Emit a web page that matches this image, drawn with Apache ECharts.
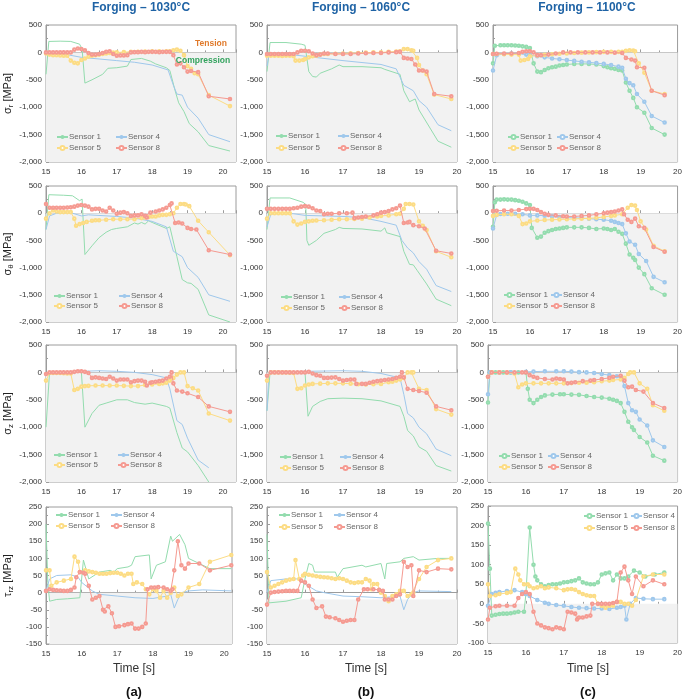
<!DOCTYPE html>
<html><head><meta charset="utf-8">
<script src="https://cdn.jsdelivr.net/npm/echarts@6/dist/echarts.min.js"></script>
<style>html,body{margin:0;padding:0;background:#fff}#c{width:685px;height:700px}</style>
</head><body><div id="c"></div><script>
// ---------- labels / ticks ----------
const temps = ['1030', '1060', '1100'];
const colLetters = ['(a)', '(b)', '(c)'];
const sensors = ['Sensor 1', 'Sensor 4', 'Sensor 5', 'Sensor 8'];
const xTicks = [15, 16, 17, 18, 19, 20];
const stressTicks = [-2000, -1500, -1000, -500, 0, 500];
const shearTicksAB = [-150, -100, -50, 0, 50, 100, 150, 200, 250];
const shearTicksC = [-100, -50, 0, 50, 100, 150, 200, 250];

// ---------- sigma_r ----------
const sr_a_s1 = [[15,-400],[15.08,200],[15.4,205],[15.7,200],[15.95,150],[16.02,60],[16.1,-560],[16.3,-500],[16.6,-400],[16.75,-290],[17,-280],[17.3,-250],[17.4,-130],[17.7,-110],[17.95,-160],[18.1,-210],[18.4,-280],[18.5,-330],[18.65,-700],[18.75,-920],[18.9,-1080],[19.05,-1300],[19.3,-1450],[19.6,-1700],[20.2,-1800]];
const sr_a_s4 = [[15,-20],[15.5,-30],[16,-90],[16.5,-120],[17,-150],[17.5,-180],[18,-230],[18.45,-320],[18.6,-600],[18.7,-760],[18.85,-780],[19,-1000],[19.3,-1200],[19.6,-1500],[20.2,-1630]];
const sr_a_s5 = [[15,-20],[15.1,-40],[15.2,-50],[15.3,-50],[15.4,-55],[15.5,-60],[15.6,-60],[15.7,-150],[15.8,-190],[15.9,-200],[16,-140],[16.1,-110],[16.2,-80],[16.3,-60],[16.4,-50],[16.5,-40],[16.6,-30],[16.7,-20],[16.8,-10],[16.9,-5],[17,0],[17.2,5],[17.4,10],[17.6,10],[17.8,15],[18,20],[18.2,20],[18.4,20],[18.5,20],[18.6,40],[18.7,50],[18.8,30],[18.9,-50],[19,-250],[19.1,-300],[19.2,-380],[19.3,-400],[19.6,-780],[20.2,-980]];
const sr_a_s8 = [[15,0],[15.1,0],[15.2,0],[15.3,0],[15.4,0],[15.5,0],[15.6,0],[15.7,0],[15.8,50],[15.9,70],[16,60],[16.1,40],[16.2,-10],[16.3,-40],[16.4,-40],[16.5,-30],[16.6,-10],[16.7,10],[16.8,20],[16.9,-30],[17,-60],[17.1,-55],[17.2,-55],[17.3,-50],[17.4,0],[17.5,5],[17.6,5],[17.7,10],[17.8,5],[17.9,10],[18,10],[18.1,10],[18.2,5],[18.3,10],[18.4,10],[18.5,10],[18.6,-50],[18.7,-220],[18.8,-200],[18.9,-270],[19,-350],[19.1,-340],[19.3,-360],[19.6,-800],[20.2,-850]];
const sr_b_s1 = [[15,-350],[15.08,180],[15.5,180],[15.9,150],[16,130],[16.1,-350],[16.2,-440],[16.3,-450],[16.4,-380],[16.7,-300],[16.9,-230],[17,-260],[17.5,-260],[18,-280],[18.1,-310],[18.5,-400],[18.6,-700],[18.75,-900],[18.8,-930],[18.9,-850],[19,-1050],[19.5,-1620],[19.85,-1730]];
const sr_b_s4 = [[15,-250],[15.05,-50],[15.5,-30],[16,-70],[17,-150],[18,-220],[18.4,-300],[18.6,-600],[18.85,-700],[19,-880],[19.2,-1000],[19.5,-1320],[19.85,-1430]];
const sr_b_s5 = [[15,-60],[15.1,-60],[15.2,-60],[15.3,-60],[15.4,-65],[15.5,-60],[15.6,-60],[15.7,-70],[15.75,-150],[15.85,-150],[15.95,-140],[16,-120],[16.1,-90],[16.2,-70],[16.3,-60],[16.4,-40],[16.5,-30],[16.6,-30],[16.8,-25],[17,-20],[17.2,-15],[17.4,-10],[17.6,-5],[17.8,0],[18,0],[18.2,10],[18.4,15],[18.5,20],[18.6,60],[18.7,60],[18.8,40],[18.85,30],[18.95,-100],[19,-230],[19.1,-330],[19.2,-400],[19.4,-770],[19.85,-850]];
const sr_b_s8 = [[15,-30],[15.1,-30],[15.2,-30],[15.3,-30],[15.4,-30],[15.5,-30],[15.6,-30],[15.7,-30],[15.8,0],[15.9,30],[16,30],[16.1,20],[16.2,-20],[16.3,-50],[16.4,-40],[16.5,-20],[16.6,-20],[16.8,-30],[17,-30],[17.2,-30],[17.4,-20],[17.6,-15],[17.8,-10],[18,-10],[18.2,0],[18.4,5],[18.5,10],[18.6,-100],[18.7,-110],[18.8,-120],[18.9,-220],[19,-330],[19.1,-330],[19.2,-350],[19.4,-760],[19.85,-800]];
const sr_c_s1 = [[15,-200],[15.05,120],[15.2,130],[15.3,130],[15.4,130],[15.5,130],[15.6,125],[15.7,120],[15.8,110],[15.9,100],[16,80],[16.1,-200],[16.2,-350],[16.3,-360],[16.4,-320],[16.5,-290],[16.6,-270],[16.7,-260],[16.8,-240],[16.9,-230],[17,-220],[17.2,-210],[17.4,-210],[17.6,-210],[17.8,-220],[18,-250],[18.1,-270],[18.2,-290],[18.3,-300],[18.4,-320],[18.5,-330],[18.6,-550],[18.7,-700],[18.8,-830],[18.9,-1000],[19.1,-1100],[19.3,-1380],[19.65,-1500]];
const sr_c_s4 = [[15,-330],[15.1,-50],[15.3,-30],[15.5,-20],[15.7,-25],[15.9,-40],[16,-50],[16.2,-70],[16.4,-90],[16.6,-110],[16.8,-125],[17,-140],[17.2,-155],[17.4,-170],[17.6,-180],[17.8,-195],[18,-210],[18.2,-230],[18.4,-260],[18.5,-280],[18.6,-480],[18.7,-560],[18.8,-600],[18.9,-760],[19.1,-900],[19.3,-1160],[19.65,-1280]];
const sr_c_s5 = [[15,-30],[15.1,-30],[15.3,-35],[15.5,-40],[15.7,-40],[15.75,-150],[15.85,-140],[15.95,-120],[16,-70],[16.2,-55],[16.4,-45],[16.6,-35],[16.8,-25],[17,-20],[17.2,-10],[17.4,-5],[17.6,0],[17.8,5],[18,10],[18.2,10],[18.4,10],[18.5,10],[18.6,30],[18.7,40],[18.8,35],[18.85,20],[18.95,-200],[19.1,-370],[19.3,-700],[19.65,-760]];
const sr_c_s8 = [[15,-30],[15.1,-25],[15.3,-20],[15.5,-20],[15.7,-10],[15.8,10],[15.9,20],[16,20],[16.1,0],[16.2,-50],[16.3,-50],[16.5,-40],[16.7,-20],[16.9,0],[17.1,0],[17.3,0],[17.5,0],[17.7,0],[17.9,0],[18.1,0],[18.3,-5],[18.5,-10],[18.6,-100],[18.75,-130],[18.85,-150],[18.9,-270],[19.1,-280],[19.3,-700],[19.65,-780]];

// ---------- sigma_theta ----------
const st_a_s1 = [[15,-300],[15.08,340],[15.5,330],[15.75,320],[15.95,230],[16.02,260],[16.1,-760],[16.3,-600],[16.5,-450],[16.7,-350],[16.85,-300],[17,-280],[17.3,-250],[17.5,-180],[17.6,-200],[17.7,-170],[17.8,-200],[17.9,-140],[18,-170],[18.4,-280],[18.5,-250],[18.7,-800],[18.85,-1220],[19,-1280],[19.1,-1290],[19.3,-1400],[19.6,-1870],[20.2,-2000]];
const st_a_s4 = [[15,-300],[15.1,-50],[15.3,0],[15.7,10],[16,-50],[16.2,-30],[17,-60],[17.5,-90],[18,-150],[18.4,-250],[18.6,-700],[18.85,-800],[19,-1000],[19.3,-1180],[19.6,-1500],[20.2,-1620]];
const st_a_s5 = [[15,-100],[15.1,0],[15.2,50],[15.3,30],[15.4,20],[15.5,20],[15.6,20],[15.7,20],[15.8,-100],[15.85,-230],[15.95,-200],[16.05,-180],[16.15,-160],[16.3,-140],[16.4,-130],[16.5,-130],[16.7,-120],[16.9,-110],[17.1,-110],[17.3,-110],[17.5,-110],[17.7,-90],[17.8,-80],[17.9,-70],[18,-60],[18.1,-60],[18.2,-40],[18.3,-30],[18.4,-30],[18.5,-20],[18.6,0],[18.7,100],[18.8,170],[18.9,170],[18.95,160],[19.05,130],[19.3,-140],[19.6,-350],[20.2,-770]];
const st_a_s8 = [[15,170],[15.1,100],[15.2,100],[15.3,100],[15.4,100],[15.5,100],[15.6,105],[15.7,110],[15.8,120],[15.9,140],[16,150],[16.1,140],[16.2,120],[16.3,70],[16.4,80],[16.5,80],[16.6,50],[16.7,30],[16.8,100],[16.9,50],[17,-10],[17.1,10],[17.2,20],[17.3,0],[17.4,-50],[17.5,-40],[17.6,-40],[17.7,-20],[17.8,-50],[17.85,-80],[17.95,10],[18.1,30],[18.2,50],[18.3,70],[18.4,100],[18.5,150],[18.55,180],[18.65,-180],[18.75,-170],[18.85,-190],[19,-270],[19.1,-290],[19.25,-300],[19.6,-680],[20.2,-760]];
const st_b_s1 = [[15,-300],[15.08,280],[15.6,280],[15.95,200],[16.02,160],[16.05,-500],[16.1,-590],[16.3,-500],[16.5,-370],[16.8,-300],[16.9,-260],[17,-280],[17.5,-290],[18,-330],[18.1,-270],[18.15,-360],[18.5,-430],[18.6,-700],[18.75,-940],[18.85,-950],[18.95,-1050],[19.2,-1300],[19.45,-1580],[19.85,-1700]];
const st_b_s4 = [[15,-250],[15.1,-20],[15.4,0],[15.7,-10],[16,-40],[17,-60],[17.5,-80],[18,-150],[18.4,-220],[18.55,-500],[18.7,-640],[18.85,-730],[19,-890],[19.2,-1030],[19.45,-1330],[19.85,-1440]];
const st_b_s5 = [[15,-100],[15.1,0],[15.2,0],[15.3,0],[15.4,0],[15.5,0],[15.6,0],[15.7,-150],[15.8,-210],[15.9,-190],[16,-160],[16.1,-150],[16.2,-140],[16.3,-135],[16.5,-130],[16.7,-120],[16.9,-110],[17.1,-110],[17.3,-105],[17.5,-100],[17.7,-80],[17.9,-60],[18,-50],[18.2,-40],[18.4,-20],[18.5,-10],[18.6,80],[18.65,170],[18.75,170],[18.85,160],[19,-150],[19.1,-230],[19.2,-310],[19.45,-700],[19.85,-810]];
const st_b_s8 = [[15,80],[15.1,80],[15.2,80],[15.3,80],[15.4,80],[15.5,80],[15.6,80],[15.7,90],[15.8,100],[15.9,120],[16,130],[16.1,120],[16.2,90],[16.3,50],[16.4,40],[16.5,-20],[16.6,-10],[16.7,-10],[16.9,0],[17.1,0],[17.25,10],[17.3,-90],[17.4,-80],[17.5,-70],[17.6,-60],[17.8,-40],[17.9,-20],[18,10],[18.1,20],[18.2,40],[18.3,70],[18.4,90],[18.5,140],[18.6,-180],[18.7,-170],[18.75,-160],[18.85,-220],[19,-240],[19.15,-280],[19.45,-690],[19.85,-740]];
const st_c_s1 = [[15,-250],[15.05,200],[15.1,250],[15.2,250],[15.3,255],[15.4,250],[15.5,250],[15.6,240],[15.7,230],[15.8,210],[15.9,180],[16,150],[16.05,-270],[16.2,-450],[16.3,-430],[16.4,-360],[16.5,-330],[16.6,-310],[16.7,-290],[16.8,-280],[16.9,-270],[17,-260],[17.2,-260],[17.4,-260],[17.6,-270],[17.8,-290],[18,-280],[18.1,-290],[18.2,-310],[18.3,-290],[18.4,-340],[18.5,-380],[18.6,-560],[18.7,-760],[18.8,-820],[18.85,-860],[18.95,-1000],[19.1,-1120],[19.3,-1380],[19.65,-1500]];
const st_c_s4 = [[15,-280],[15.1,-30],[15.2,-15],[15.4,-10],[15.6,-10],[15.8,-20],[16,-40],[16.2,-40],[16.4,-45],[16.6,-55],[16.8,-70],[17,-80],[17.2,-85],[17.4,-90],[17.6,-100],[17.8,-110],[18,-120],[18.2,-140],[18.3,-160],[18.4,-180],[18.5,-200],[18.6,-370],[18.7,-520],[18.85,-580],[18.95,-750],[19.15,-880],[19.35,-1170],[19.65,-1270]];
const st_c_s5 = [[15,-50],[15.1,-30],[15.3,-20],[15.5,-20],[15.7,-50],[15.8,-200],[15.9,-190],[16,-150],[16.2,-135],[16.4,-125],[16.6,-120],[16.8,-115],[17,-110],[17.2,-105],[17.4,-100],[17.6,-95],[17.8,-85],[18,-70],[18.2,-50],[18.3,-40],[18.5,-20],[18.65,100],[18.75,150],[18.85,140],[18.9,60],[19,-150],[19.15,-300],[19.35,-600],[19.65,-700]];
const st_c_s8 = [[15,40],[15.1,45],[15.3,50],[15.5,50],[15.7,60],[15.9,75],[16,80],[16.1,80],[16.2,60],[16.3,20],[16.4,-10],[16.5,-30],[16.7,-40],[16.9,-55],[17,-60],[17.2,-60],[17.4,-50],[17.6,-40],[17.8,-20],[18,0],[18.1,10],[18.2,20],[18.3,30],[18.4,50],[18.5,70],[18.55,-20],[18.65,-120],[18.75,-160],[18.85,-100],[18.95,-240],[19.1,-270],[19.35,-620],[19.65,-710]];

// ---------- sigma_z ----------
const sz_a_s1 = [[15,-1000],[15.1,0],[15.5,0],[16,10],[16.05,0],[16.1,-1000],[16.3,-750],[16.5,-600],[16.7,-560],[17,-500],[17.3,-500],[17.5,-550],[17.8,-580],[18,-560],[18.4,-620],[18.5,-650],[18.7,-1100],[18.85,-1380],[19,-1450],[19.3,-1700],[19.6,-2000]];
const sz_a_s4 = [[15,-50],[15.1,0],[16,20],[16.5,30],[17,20],[17.5,0],[18,-40],[18.4,-100],[18.5,-300],[18.7,-880],[18.85,-950],[19,-1200],[19.3,-1600],[19.6,-1740]];
const sz_a_s5 = [[15,-150],[15.1,-10],[15.2,-10],[15.3,-10],[15.4,-10],[15.5,-15],[15.6,-20],[15.7,-20],[15.8,-320],[15.9,-300],[16,-260],[16.1,-250],[16.2,-245],[16.4,-240],[16.6,-240],[16.8,-240],[17,-240],[17.2,-245],[17.4,-250],[17.6,-250],[17.8,-230],[18,-220],[18.2,-210],[18.3,-200],[18.4,-190],[18.5,-150],[18.6,-100],[18.7,-40],[18.8,0],[18.9,0],[19,-250],[19.15,-290],[19.3,-330],[19.6,-750],[20.2,-880]];
const sz_a_s8 = [[15,-30],[15.1,0],[15.2,0],[15.3,0],[15.4,0],[15.5,0],[15.6,0],[15.7,0],[15.8,10],[15.9,20],[16,20],[16.1,10],[16.2,-10],[16.3,-100],[16.4,-90],[16.5,-100],[16.6,-110],[16.7,-120],[16.8,-80],[16.9,-110],[17,-150],[17.1,-130],[17.2,-130],[17.3,-130],[17.4,-180],[17.5,-160],[17.6,-150],[17.7,-150],[17.8,-170],[17.85,-240],[17.95,-190],[18,-180],[18.1,-170],[18.2,-160],[18.3,-150],[18.4,-110],[18.5,-80],[18.55,0],[18.6,-200],[18.7,-330],[18.85,-350],[19,-380],[19.3,-450],[19.6,-620],[20.2,-720]];
const sz_b_s1 = [[15,-700],[15.08,0],[15.5,0],[16,0],[16.05,0],[16.08,-800],[16.2,-620],[16.4,-530],[16.6,-480],[17,-470],[17.5,-480],[18,-520],[18.5,-620],[18.6,-800],[18.7,-1060],[18.85,-1160],[19,-1360],[19.2,-1440],[19.45,-1700],[19.85,-1800]];
const sz_b_s4 = [[15,-700],[15.05,0],[16,20],[17,30],[17.5,20],[18,-20],[18.5,-100],[18.6,-400],[18.7,-750],[18.85,-830],[19,-1000],[19.2,-1120],[19.45,-1400],[19.85,-1520]];
const sz_b_s5 = [[15,-150],[15.1,0],[15.2,0],[15.3,0],[15.4,0],[15.5,0],[15.6,-5],[15.7,-10],[15.8,-300],[15.9,-290],[16,-240],[16.1,-220],[16.2,-210],[16.4,-205],[16.6,-200],[16.8,-200],[17,-200],[17.2,-205],[17.4,-215],[17.6,-220],[17.8,-215],[18,-210],[18.2,-180],[18.3,-170],[18.4,-150],[18.5,-130],[18.6,-100],[18.7,0],[18.8,0],[18.85,0],[19,-300],[19.2,-320],[19.45,-670],[19.85,-770]];
const sz_b_s8 = [[15,-60],[15.1,0],[15.2,0],[15.3,0],[15.4,0],[15.5,0],[15.6,0],[15.7,0],[15.8,0],[15.9,0],[16,0],[16.1,10],[16.2,-20],[16.3,-50],[16.4,-60],[16.5,-100],[16.6,-100],[16.7,-95],[16.8,-90],[16.9,-120],[17,-150],[17.1,-140],[17.2,-130],[17.3,-130],[17.35,-210],[17.5,-210],[17.6,-210],[17.7,-190],[17.8,-170],[17.9,-160],[18,-150],[18.1,-140],[18.2,-130],[18.3,-120],[18.4,-100],[18.5,-80],[18.55,0],[18.6,-90],[18.7,-300],[18.85,-320],[19,-340],[19.2,-370],[19.45,-620],[19.85,-690]];
const sz_c_s1 = [[15,-550],[15.05,0],[15.2,0],[15.4,0],[15.6,0],[15.8,0],[16,0],[16.05,-300],[16.1,-500],[16.2,-560],[16.3,-500],[16.4,-450],[16.5,-420],[16.7,-405],[16.9,-400],[17,-400],[17.2,-405],[17.4,-410],[17.6,-430],[17.8,-450],[18,-460],[18.2,-480],[18.3,-500],[18.4,-520],[18.5,-560],[18.6,-720],[18.7,-900],[18.8,-1000],[18.85,-1050],[19,-1180],[19.2,-1280],[19.35,-1520],[19.65,-1610]];
const sz_c_s4 = [[15,-400],[15.05,0],[15.3,0],[15.6,0],[16,10],[16.2,15],[16.5,20],[16.8,20],[17,20],[17.2,15],[17.4,5],[17.6,0],[17.8,-10],[18,-30],[18.2,-50],[18.4,-70],[18.5,-80],[18.6,-250],[18.7,-560],[18.8,-690],[18.9,-720],[19,-860],[19.2,-970],[19.35,-1240],[19.65,-1360]];
const sz_c_s5 = [[15,-80],[15.1,0],[15.3,0],[15.5,-5],[15.7,-20],[15.8,-270],[15.9,-220],[16,-200],[16.2,-200],[16.4,-200],[16.6,-200],[16.8,-200],[17,-200],[17.2,-195],[17.4,-190],[17.6,-190],[17.8,-180],[18,-160],[18.2,-150],[18.3,-140],[18.5,-130],[18.6,-100],[18.7,-30],[18.75,0],[18.85,0],[19,-200],[19.2,-300],[19.35,-600],[19.65,-700]];
const sz_c_s8 = [[15,-80],[15.1,0],[15.3,0],[15.5,0],[15.7,0],[15.9,0],[16,0],[16.1,-50],[16.2,-80],[16.3,-100],[16.5,-120],[16.7,-130],[16.8,-110],[16.9,-120],[17,-130],[17.1,-200],[17.2,-190],[17.3,-180],[17.5,-160],[17.7,-150],[17.8,-140],[18,-120],[18.2,-100],[18.3,-80],[18.5,-60],[18.6,-150],[18.7,-270],[18.8,-260],[18.9,-320],[19.1,-350],[19.35,-560],[19.65,-650]];

// ---------- tau_rz ----------
const trz_a_s1 = [[15,200],[15.05,30],[15.1,-25],[15.3,-20],[15.6,-18],[15.95,-15],[16.05,95],[16.2,40],[16.5,60],[16.8,65],[16.9,60],[17,70],[17.3,75],[17.4,80],[17.5,105],[17.9,110],[17.95,40],[18,35],[18.1,80],[18.35,90],[18.5,165],[18.55,150],[18.75,170],[18.9,140],[19,100],[19.3,85],[19.6,70],[20.2,70]];
const trz_a_s4 = [[15,5],[15.1,40],[15.3,50],[15.7,52],[15.9,45],[16,30],[16.3,5],[16.5,-5],[17,-10],[17.5,-15],[18,-17],[18.4,-10],[18.5,-5],[18.6,-45],[18.7,-20],[18.8,0],[19,5],[19.4,8],[20.2,5]];
const trz_a_s5 = [[15,65],[15.1,65],[15.15,20],[15.3,30],[15.5,35],[15.7,40],[15.8,105],[15.9,90],[15.95,60],[16.1,65],[16.2,62],[16.3,60],[16.4,58],[16.5,55],[16.6,55],[16.7,55],[16.8,57],[16.9,58],[17,58],[17.1,55],[17.2,50],[17.3,55],[17.4,55],[17.45,25],[17.55,30],[17.7,25],[17.8,10],[17.9,-5],[18,10],[18.1,5],[18.2,-15],[18.3,5],[18.4,-15],[18.5,0],[18.6,15],[18.7,-10],[18.8,-5],[19,15],[19.3,25],[19.6,90],[20.2,110]];
const trz_a_s8 = [[15,5],[15.1,10],[15.2,8],[15.3,7],[15.4,6],[15.5,5],[15.6,5],[15.7,8],[15.8,15],[15.85,45],[15.95,60],[16.05,58],[16.1,55],[16.2,20],[16.3,-20],[16.4,-15],[16.5,-10],[16.6,-50],[16.65,-55],[16.75,-40],[16.85,-60],[16.95,-100],[17.05,-98],[17.2,-95],[17.3,-92],[17.4,-90],[17.5,-105],[17.6,-105],[17.7,-100],[17.8,-90],[17.85,10],[17.95,15],[18.05,15],[18.15,16],[18.3,15],[18.4,10],[18.5,5],[18.55,10],[18.6,65],[18.7,150],[18.8,80],[18.9,70],[19,85],[19.3,85],[19.6,65],[20.2,80]];
const trz_b_s1 = [[15,170],[15.05,-30],[15.5,-25],[15.9,-15],[16,40],[16.1,85],[16.2,80],[16.25,60],[16.5,60],[16.8,60],[16.85,45],[17,70],[17.5,80],[17.6,75],[18,85],[18.1,40],[18.15,85],[18.5,90],[18.6,100],[18.85,105],[19,95],[19.5,100],[19.85,100]];
const trz_b_s4 = [[15,0],[15.1,35],[15.5,40],[15.8,40],[16,25],[16.3,5],[16.5,0],[17,-10],[17.5,-12],[18,-15],[18.5,-10],[18.6,-50],[18.7,-20],[18.85,0],[19,5],[19.85,3]];
const trz_b_s5 = [[15,60],[15.1,15],[15.2,20],[15.3,25],[15.4,30],[15.5,35],[15.6,38],[15.7,40],[15.75,95],[15.85,40],[15.95,50],[16,55],[16.1,52],[16.2,50],[16.3,48],[16.4,46],[16.5,45],[16.6,44],[16.7,42],[16.8,40],[16.9,42],[17,40],[17.1,35],[17.2,30],[17.3,28],[17.4,30],[17.5,30],[17.6,40],[17.7,35],[17.75,10],[17.8,25],[17.9,25],[18,0],[18.1,-10],[18.2,-25],[18.3,-10],[18.4,-5],[18.5,5],[18.6,5],[18.7,-10],[18.8,-5],[18.85,0],[19,40],[19.2,75],[19.5,95],[19.85,100]];
const trz_b_s8 = [[15,-35],[15.1,0],[15.2,2],[15.3,3],[15.4,4],[15.5,5],[15.6,5],[15.7,5],[15.8,5],[15.9,35],[16,30],[16.1,20],[16.2,-20],[16.3,-45],[16.45,-40],[16.55,-70],[16.65,-72],[16.8,-75],[16.9,-80],[17,-85],[17.1,-82],[17.2,-80],[17.3,-80],[17.4,-20],[17.55,10],[17.65,10],[17.8,10],[17.95,8],[18.05,5],[18.1,-20],[18.2,-20],[18.3,-20],[18.4,-10],[18.5,-5],[18.6,90],[18.7,75],[18.8,80],[18.85,-10],[19,65],[19.2,60],[19.5,70],[19.85,68]];
const trz_c_s1 = [[15,205],[15.05,90],[15.1,-30],[15.2,-28],[15.3,-26],[15.4,-25],[15.5,-25],[15.6,-24],[15.7,-22],[15.8,-20],[15.95,-20],[16,25],[16.1,195],[16.2,100],[16.25,70],[16.3,60],[16.4,50],[16.5,45],[16.6,48],[16.7,50],[16.8,50],[16.9,52],[17,55],[17.1,56],[17.2,58],[17.3,60],[17.4,65],[17.5,55],[17.6,52],[17.7,50],[17.8,50],[17.9,55],[18,75],[18.1,78],[18.2,80],[18.3,60],[18.4,75],[18.5,65],[18.6,65],[18.7,70],[18.85,85],[19,80],[19.15,70],[19.4,75],[19.65,80]];
const trz_c_s4 = [[15,-5],[15.1,25],[15.2,28],[15.3,30],[15.5,33],[15.7,35],[15.9,30],[16,25],[16.1,20],[16.3,10],[16.5,3],[16.6,0],[16.8,-3],[17,-5],[17.2,-8],[17.4,-10],[17.6,-11],[17.8,-12],[18,-12],[18.2,-13],[18.4,-10],[18.5,-8],[18.6,-5],[18.65,-40],[18.75,0],[18.9,15],[19.1,13],[19.35,12],[19.65,12]];
const trz_c_s5 = [[15,50],[15.05,20],[15.2,22],[15.3,25],[15.5,28],[15.6,30],[15.72,90],[15.8,75],[15.85,60],[15.95,50],[16.05,50],[16.1,45],[16.2,40],[16.3,42],[16.4,45],[16.5,40],[16.6,42],[16.8,40],[17,35],[17.1,37],[17.2,38],[17.3,36],[17.4,30],[17.5,25],[17.6,22],[17.7,20],[17.8,20],[17.9,0],[18,-5],[18.1,-10],[18.2,-5],[18.3,-5],[18.4,5],[18.5,5],[18.6,0],[18.7,0],[18.8,-5],[18.9,10],[19.1,70],[19.35,75],[19.65,75]];
const trz_c_s8 = [[15,-40],[15.05,-10],[15.2,-6],[15.3,-5],[15.5,-5],[15.7,-5],[15.8,15],[15.9,25],[16,30],[16.1,25],[16.2,-20],[16.3,-50],[16.4,-55],[16.5,-60],[16.6,-62],[16.7,-65],[16.8,-60],[16.9,-62],[17,-65],[17.1,-20],[17.2,-22],[17.3,-25],[17.35,-40],[17.4,-35],[17.5,-35],[17.6,-32],[17.7,-30],[17.75,0],[17.9,0],[18,0],[18.1,0],[18.2,0],[18.3,2],[18.4,5],[18.5,80],[18.6,95],[18.7,60],[18.8,25],[18.9,70],[19.1,45],[19.35,60],[19.65,50]];

// ---------- build ----------
const FONT = "'Liberation Sans', Arial, sans-serif";
const colors = ['#93dcae', '#9fc8ec', '#fcdc84', '#f59a91'];
const colKeys = ['a', 'b', 'c'];

const panelData = [
  [[sr_a_s1, sr_a_s4, sr_a_s5, sr_a_s8], [sr_b_s1, sr_b_s4, sr_b_s5, sr_b_s8], [sr_c_s1, sr_c_s4, sr_c_s5, sr_c_s8]],
  [[st_a_s1, st_a_s4, st_a_s5, st_a_s8], [st_b_s1, st_b_s4, st_b_s5, st_b_s8], [st_c_s1, st_c_s4, st_c_s5, st_c_s8]],
  [[sz_a_s1, sz_a_s4, sz_a_s5, sz_a_s8], [sz_b_s1, sz_b_s4, sz_b_s5, sz_b_s8], [sz_c_s1, sz_c_s4, sz_c_s5, sz_c_s8]],
  [[trz_a_s1, trz_a_s4, trz_a_s5, trz_a_s8], [trz_b_s1, trz_b_s4, trz_b_s5, trz_b_s8], [trz_c_s1, trz_c_s4, trz_c_s5, trz_c_s8]]
];
const yNames = ['σ{s|r} [MPa]', 'σ{s|θ} [MPa]', 'σ{s|z} [MPa]', 'τ{s|rz} [MPa]'];

const rowTop = [25, 186, 345, 507];
const rowH = [137, 136, 137, 137];
function geom(r, c) {
  if (c === 0) return r < 3 ? {left: 46, width: 190, xmax: 20.37} : {left: 44, width: 188, xmax: 20.22};
  if (c === 1) return {left: 267, width: 190, xmax: 20};
  return r < 2 ? {left: 493, width: 187, xmax: 20} : {left: 488, width: 191, xmax: 20};
}
// legend item positions: [x1, x2, y1, y2]
const legendPos = [
  [[56,115,138,149],[275,337,137,149],[507,556,138,149]],
  [[53,118,297,307],[280,338,298,309],[503,550,296,307]],
  [[53,117,456,466],[279,339,458,469],[498,547,457,468]],
  [[55,110,516,527],[278,333,516,528],[583,630,517,529]]
];

const grids = [], xAxes = [], yAxes = [], series = [], legends = [];
let idx = 0;
for (let r = 0; r < 4; r++) {
  for (let c = 0; c < 3; c++) {
    const g = geom(r, c);
    const top = (r === 3 && c === 2) ? 506 : rowTop[r];
    grids.push({left: g.left, top: top, width: g.width, height: rowH[r], show: true, borderColor: '#9c9c9c', borderWidth: 1});
    xAxes.push({
      type: 'value', gridIndex: idx, min: xTicks[0], max: g.xmax, interval: 1,
      axisLine: {show: true, lineStyle: {color: '#9c9c9c'}},
      axisTick: {show: true, inside: true, length: 3, lineStyle: {color: '#9c9c9c'}},
      minorTick: {show: true, splitNumber: 2, length: 2, lineStyle: {color: '#9c9c9c'}},
      splitLine: {show: false},
      axisLabel: {fontSize: 8, color: '#333', fontFamily: FONT, margin: 6,
        formatter: v => (xTicks.indexOf(v) >= 0 ? String(v) : '')}
    });
    const ticks = r < 3 ? stressTicks : (c === 2 ? shearTicksC : shearTicksAB);
    const yAx = {
      type: 'value', gridIndex: idx, min: ticks[0], max: ticks[ticks.length - 1],
      interval: ticks[1] - ticks[0],
      axisLine: {show: true, lineStyle: {color: '#9c9c9c'}},
      axisTick: {show: true, inside: true, length: 3, lineStyle: {color: '#9c9c9c'}},
      minorTick: {show: true, splitNumber: 2, length: 2, lineStyle: {color: '#9c9c9c'}},
      splitLine: {show: false},
      axisLabel: {fontSize: 8, color: '#333', fontFamily: FONT, margin: 4,
        formatter: v => v.toLocaleString('en-US')}
    };
    if (c === 0) {
      yAx.name = yNames[r];
      yAx.nameLocation = 'middle';
      yAx.nameGap = 31;
      yAx.nameTextStyle = {fontSize: 11, color: '#222', fontFamily: FONT, lineHeight: 14,
        rich: {s: {fontSize: 8, lineHeight: 8, verticalAlign: 'bottom', color: '#222', fontFamily: FONT}}};
    }
    yAxes.push(yAx);

    // shaded compression region (below zero)
    let shade;
    if (r === 3 && c === 0) shade = [[{xAxis: 15.1, yAxis: ticks[0]}, {xAxis: g.xmax, yAxis: 0}]];
    else if (r === 3 && c === 1) shade = [[{yAxis: ticks[0]}, {yAxis: -20}]];
    else shade = [[{yAxis: ticks[0]}, {yAxis: 0}]];
    series.push({type: 'line', xAxisIndex: idx, yAxisIndex: idx, data: [], silent: true, z: 1,
      markArea: {silent: true, itemStyle: {color: '#f2f2f2'}, data: shade}});

    const data = panelData[r][c];
    for (let k = 0; k < 4; k++) {
      const marked = (c === 2) || k >= 2;
      series.push({
        type: 'line', name: sensors[k] + '#' + colKeys[c], xAxisIndex: idx, yAxisIndex: idx,
        data: data[k], color: colors[k],
        lineStyle: {width: 1, color: colors[k]},
        itemStyle: {color: colors[k], borderWidth: 0.8},
        symbol: marked ? 'emptyCircle' : 'none', symbolSize: 2.6, showAllSymbol: true,
        z: 3 + k
      });
    }
    const lp = legendPos[r][c];
    const xs = [lp[0], lp[1], lp[0], lp[1]];
    const ys = [lp[2], lp[2], lp[3], lp[3]];
    for (let k = 0; k < 4; k++) {
      legends.push({
        data: [sensors[k] + '#' + colKeys[c]], left: xs[k], top: ys[k] - 5, padding: 0,
        itemWidth: 11, itemHeight: 5, itemGap: 0, selectedMode: false,
        formatter: n => n.split('#')[0],
        textStyle: {fontSize: 8, color: '#666', fontFamily: FONT, padding: [0, 0, 0, -4]}
      });
    }
    idx++;
  }
}

const titleX = [141, 361, 587];
const bottomX = [134, 366, 588];
const graphics = [];
for (let c = 0; c < 3; c++) {
  graphics.push({type: 'text', z: 100, x: titleX[c], y: 8, style: {text: 'Forging – ' + temps[c] + '°C', align: 'center', verticalAlign: 'middle',
    fill: '#1f63a5', font: 'bold 12px ' + FONT}});
  graphics.push({type: 'text', z: 100, x: bottomX[c], y: 669, style: {text: 'Time [s]', align: 'center', verticalAlign: 'middle',
    fill: '#333', font: '12px ' + FONT}});
  graphics.push({type: 'text', z: 100, x: bottomX[c], y: 692, style: {text: colLetters[c], align: 'center', verticalAlign: 'middle',
    fill: '#111', font: 'bold 13px ' + FONT}});
}
graphics.push({type: 'text', z: 100, x: 211, y: 44, style: {text: 'Tension', align: 'center', verticalAlign: 'middle', fill: '#e07a2b', font: 'bold 8.5px ' + FONT}});
graphics.push({type: 'text', z: 100, x: 203, y: 61, style: {text: 'Compression', align: 'center', verticalAlign: 'middle', fill: '#33a35e', font: 'bold 8.5px ' + FONT}});

const chart = echarts.init(document.getElementById('c'), null, {renderer: 'canvas'});
chart.setOption({
  animation: false,
  backgroundColor: '#fff',
  grid: grids, xAxis: xAxes, yAxis: yAxes, series: series, legend: legends,
  graphic: graphics
});
</script></body></html>
